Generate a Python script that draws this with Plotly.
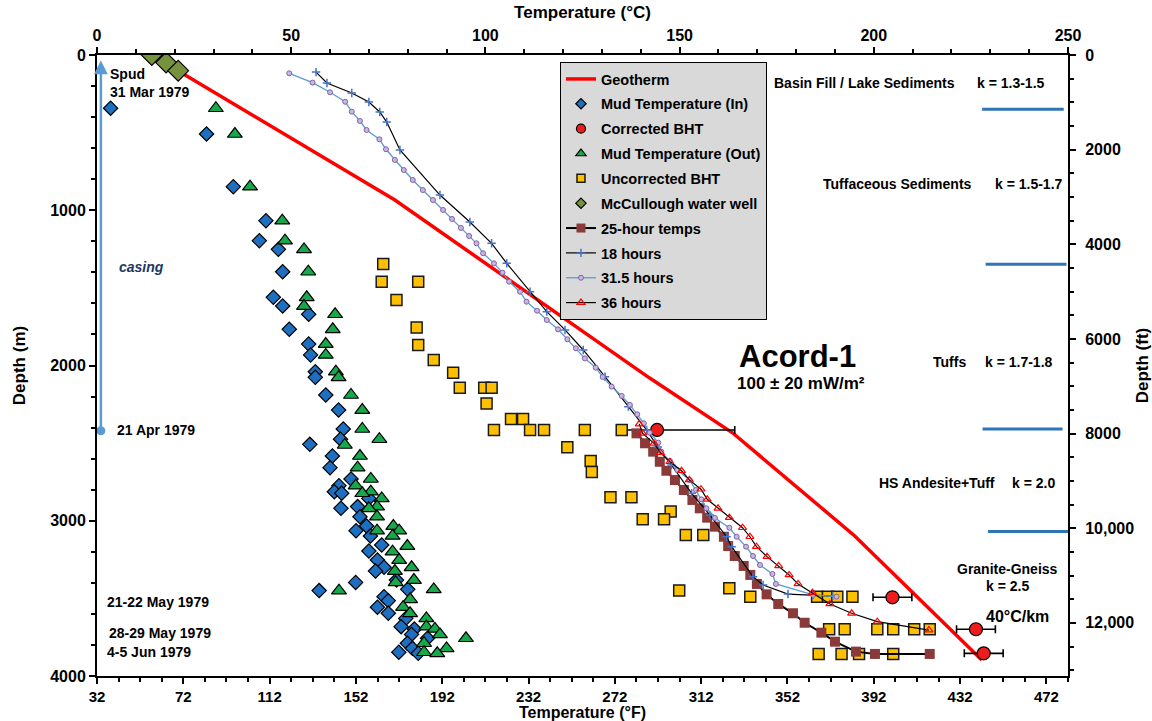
import plotly.graph_objects as go

FONT = "Liberation Sans, Arial, Helvetica, sans-serif"

# ---------------- data (temperature in °C, depth in m) ----------------
geo_t = [21.4, 76.7, 142.3, 163.7, 195.1, 227.8]
geo_d = [110, 934, 2081, 2435, 3098, 3897]

mud_in_t = [3.5, 28.2, 35.1, 43.5, 41.8, 46.7, 47.8, 45.4, 47.8, 54.5, 49.5, 54.5, 55.0, 56.2, 56.2,
            58.9, 62.2, 63.4, 62.7, 54.8, 60.6, 60.0, 65.4, 62.3, 61.1, 63.0, 70.0, 62.8, 67.1, 67.7,
            69.4, 66.7, 70.4, 73.3, 70.0, 72.2, 73.9, 71.7, 66.6, 57.2, 80.0, 77.1, 73.9, 75.0, 72.2,
            75.0, 79.5, 78.3, 81.7, 81.0, 85.1, 79.9, 81.2, 77.7, 82.7]
mud_in_d = [343, 509, 848, 1067, 1196, 1252, 1396, 1561, 1617, 1670, 1767, 1862, 1932, 2040, 2076,
            2190, 2287, 2409, 2475, 2508, 2583, 2658, 2731, 2774, 2813, 2823, 2856, 2920, 2909, 2974,
            3034, 3064, 3098, 3156, 3195, 3253, 3300, 3324, 3397, 3450, 3442, 3382, 3489, 3515, 3557,
            3596, 3629, 3682, 3697, 3732, 3757, 3789, 3822, 3847, 3854]

cor_t = [144.2, 204.8, 226.3, 228.3]
cor_d = [2415, 3493, 3699, 3854]
cor_err_plus = [20.0, 5.0, 5.0, 5.0]
cor_err_minus = [8.3, 5.0, 5.0, 5.0]

mud_out_t = [30.6, 35.5, 39.4, 47.7, 48.4, 53.3, 54.4, 54.0, 53.3, 61.3, 60.7, 58.9, 58.9, 61.5, 62.2,
             65.4, 68.3, 68.3, 72.7, 63.8, 67.7, 67.1, 70.5, 66.6, 70.5, 68.3, 73.3, 72.1, 70.0, 72.1,
             76.3, 72.1, 77.8, 76.1, 79.9, 76.1, 77.8, 81.0, 76.7, 81.6, 76.9, 62.3, 86.7, 80.6, 78.8,
             80.6, 84.8, 84.8, 87.0, 88.3, 95.0, 84.2, 90.0, 84.2, 87.6]
mud_out_d = [343, 509, 848, 1067, 1196, 1252, 1396, 1561, 1617, 1670, 1767, 1862, 1932, 2040, 2076,
             2190, 2287, 2409, 2475, 2512, 2583, 2658, 2731, 2774, 2813, 2823, 2856, 2909, 2920, 2974,
             3034, 3064, 3064, 3098, 3163, 3199, 3253, 3300, 3324, 3382, 3397, 3450, 3442, 3506, 3557,
             3596, 3629, 3682, 3697, 3732, 3757, 3789, 3822, 3847, 3854]

unc_t = [73.7, 73.3, 82.7, 77.1, 82.3, 82.7, 86.7, 91.7, 93.4, 99.7, 101.6, 100.3, 106.6, 109.7,
         102.2, 111.5, 115.1, 125.6, 135.1, 121.1, 127.1, 127.4, 132.2, 137.6, 147.7, 140.5, 146.0,
         151.6, 156.1, 149.9, 162.8, 168.2, 185.4, 188.2, 190.6, 194.5, 188.5, 192.5, 200.9, 205.0,
         210.4, 214.4, 185.8, 191.7, 196.2, 205.0]
unc_d = [1346, 1460, 1460, 1578, 1756, 1868, 1965, 2046, 2143, 2143, 2143, 2244, 2345, 2345,
         2415, 2415, 2415, 2415, 2415, 2527, 2615, 2686, 2849, 2849, 2941, 2991, 2991,
         3092, 3092, 3450, 3435, 3489, 3489, 3489, 3489, 3489, 3699, 3699, 3699, 3699,
         3699, 3699, 3858, 3858, 3858, 3858]

well_t = [14.1, 17.8, 20.9]
well_d = [0, 49, 101]

h25_t = [138.9, 141.1, 143.2, 144.9, 146.6, 148.8, 151.1, 153.3, 155.2, 157.1, 159.1, 161.4, 162.5,
         164.2, 166.5, 168.2, 169.9, 172.4, 175.4, 179.2, 182.2, 186.5, 190.0, 195.4, 200.3, 214.4]
h25_d = [2437, 2501, 2555, 2620, 2678, 2738, 2802, 2866, 2920, 2980, 3038, 3103, 3163,
         3227, 3291, 3349, 3407, 3474, 3536, 3596, 3657, 3721, 3779, 3843, 3858, 3858]

h18_t = [56.4, 59.2, 65.6, 70.0, 72.8, 74.6, 78.0, 88.3, 96.0, 101.6, 105.5, 111.5, 115.8, 120.5,
         125.2, 130.8, 136.8, 141.5, 144.4, 147.9, 153.1, 157.8, 162.1, 163.4, 168.9, 171.5, 177.9,
         184.3, 189.4]
h18_d = [110, 180, 245, 303, 367, 432, 612, 902, 1076, 1213, 1342, 1525, 1653, 1771,
         1900, 2072, 2265, 2415, 2525, 2641, 2823, 2963, 3103, 3167, 3360, 3414, 3472,
         3478, 3485]

h31_t = [49.5, 55.5, 60.0, 63.9, 65.6, 67.7, 69.4, 72.7, 74.4, 76.7, 79.0, 81.3, 83.9, 86.5, 89.1,
         91.4, 93.7, 95.8, 97.7, 99.4, 102.2, 104.4, 106.1, 108.9, 110.6, 113.3, 115.8, 118.7, 121.1,
         123.3, 125.6, 128.4, 130.2, 132.5, 135.1, 137.2, 139.1, 140.8, 142.3, 144.5, 145.3, 147.5,
         149.4, 152.6, 154.2, 155.6, 156.9, 159.1, 162.8, 164.7, 167.1, 168.9, 170.7, 173.9, 174.8,
         184.4, 190.4]
h31_d = [118, 178, 240, 301, 365, 425, 483, 543, 607, 676, 741, 805, 870, 934, 998,
         1056, 1114, 1166, 1213, 1277, 1342, 1402, 1460, 1525, 1589, 1647, 1707, 1767, 1831,
         1889, 1954, 2014, 2074, 2136, 2196, 2254, 2314, 2372, 2433, 2497, 2555, 2615,
         2673, 2737, 2802, 2862, 2920, 2982, 3045, 3103, 3167, 3227, 3285, 3343, 3407,
         3478, 3489]

h36_t = [139.6, 140.5, 143.4, 145.1, 147.5, 150.5, 152.5, 155.5, 157.1, 159.9, 162.8, 166.2, 168.1,
         169.8, 172.5, 175.5, 178.2, 180.5, 184.2, 188.7, 194.3, 200.9, 214.2]
h36_d = [2377, 2437, 2501, 2562, 2620, 2678, 2737, 2797, 2862, 2920, 2980, 3045, 3103,
         3167, 3231, 3291, 3349, 3407, 3463, 3536, 3596, 3650, 3704]

# casing from spud to 21 Apr 1979
casing_t = 1.0
casing_top_d = 35
casing_bot_d = 2420

# formation boundaries (m)
boundary_d = [350, 1348, 2409, 3070]
boundary_t0 = [227.9, 228.8, 228.0, 229.4]
boundary_t1 = [248.9, 249.6, 248.6, 250.0]

# axis ticks
c_ticks = [0, 50, 100, 150, 200, 250]
f_ticks = [32, 72, 112, 152, 192, 232, 272, 312, 352, 392, 432, 472]
m_ticks = [0, 1000, 2000, 3000, 4000]
ft_ticks = [0, 2000, 4000, 6000, 8000, 10000, 12000]
ft_labels = ["0", "2000", "4000", "6000", "8000", "10,000", "12,000"]
ft_minor = [v for v in range(500, 13001, 500) if v % 2000 != 0]

MAX_D = 4000
MAX_FT = MAX_D / 0.3048

# ---------------- series styles ----------------
series = [
    dict(name="Geotherm", x=geo_t, y=geo_d, mode="lines",
         line=dict(color="#FF0000", width=3.5), lg=None),
    dict(name="Mud Temperature (In)", x=mud_in_t, y=mud_in_d, mode="markers",
         marker=dict(symbol="diamond", size=11, color="#1F6FC0", line=dict(color="black", width=1.2)),
         lg=dict(size=8)),
    dict(name="Corrected BHT", x=cor_t, y=cor_d, mode="markers",
         marker=dict(symbol="circle", size=13, color="#EE1C1C", line=dict(color="black", width=1.2)),
         error_x=dict(type="data", symmetric=False, array=cor_err_plus, arrayminus=cor_err_minus,
                      color="black", thickness=1.6, width=4),
         lg=dict(size=9)),
    dict(name="Mud Temperature (Out)", x=mud_out_t, y=mud_out_d, mode="markers",
         marker=dict(symbol="triangle-up", size=13, color="#16A84A", line=dict(color="black", width=1.2)),
         lg=dict(size=9)),
    dict(name="Uncorrected BHT", x=unc_t, y=unc_d, mode="markers",
         marker=dict(symbol="square", size=11, color="#FFC000", line=dict(color="#1a1a1a", width=1.5)),
         lg=dict(size=8)),
    dict(name="McCullough water well", x=well_t, y=well_d, mode="markers",
         marker=dict(symbol="diamond", size=16, color="#76923C", line=dict(color="black", width=1.2)),
         lg=dict(size=8)),
    dict(name="25-hour temps", x=h25_t, y=h25_d, mode="lines+markers",
         line=dict(color="black", width=2),
         marker=dict(symbol="square", size=10, color="#8B3A3A", line=dict(width=0)),
         lg=dict(size=9)),
    dict(name="18 hours", x=h18_t, y=h18_d, mode="lines+markers",
         line=dict(color="black", width=1.2),
         marker=dict(symbol="cross-thin", size=6, color="#4472C4", line=dict(color="#4472C4", width=1.5)),
         lg=None),
    dict(name="31.5 hours", x=h31_t, y=h31_d, mode="lines+markers",
         line=dict(color="#5B9BD5", width=1.3),
         marker=dict(symbol="circle", size=5, color="#C9B6E4", line=dict(color="#8064A2", width=1)),
         lg=None),
    dict(name="36 hours", x=h36_t, y=h36_d, mode="lines+markers",
         line=dict(color="black", width=1.2),
         marker=dict(symbol="triangle-up-open", size=7, color="#FF0000", line=dict(color="#FF0000", width=1.2)),
         lg=None),
]

fig = go.Figure()

for i, s in enumerate(series):
    s = dict(s)
    lg = s.pop("lg")
    grp = "g%d" % i
    if lg is None:
        fig.add_trace(go.Scatter(xaxis="x2", yaxis="y", legendgroup=grp, hoverinfo="skip", **s))
    else:
        fig.add_trace(go.Scatter(xaxis="x2", yaxis="y", legendgroup=grp, hoverinfo="skip",
                                 showlegend=False, **s))
        mk = dict(s["marker"])
        mk.update(lg)
        leg = dict(name=s["name"], mode=s["mode"], marker=mk)
        if "line" in s:
            leg["line"] = s["line"]
        fig.add_trace(go.Scatter(x=[None], y=[None], xaxis="x2", yaxis="y", legendgroup=grp,
                                 hoverinfo="skip", **leg))

# casing dot
fig.add_trace(go.Scatter(x=[casing_t], y=[casing_bot_d], xaxis="x2", yaxis="y", mode="markers",
                         marker=dict(symbol="circle", size=9, color="#5B9BD5"),
                         showlegend=False, hoverinfo="skip"))
# dummy trace for secondary axes
fig.add_trace(go.Scatter(x=[None], y=[None], xaxis="x", yaxis="y2", showlegend=False, hoverinfo="skip"))

# formation boundary lines
for d, t0, t1 in zip(boundary_d, boundary_t0, boundary_t1):
    fig.add_shape(type="line", xref="x2", yref="y", x0=t0, x1=t1, y0=d, y1=d,
                  line=dict(color="#2E75B6", width=3))

bold = dict(family=FONT, color="black", weight="bold")

def note(text, x, y, size=14, xanchor="left", **kw):
    f = dict(bold, size=size)
    f.update(kw.pop("font", {}))
    fig.add_annotation(text=text, x=x, y=y, xref="x2", yref="y", showarrow=False,
                       xanchor=xanchor, yanchor="middle", font=f, align=kw.pop("align", "left"), **kw)

# casing arrow
fig.add_annotation(x=casing_t, y=casing_top_d, ax=casing_t, ay=casing_bot_d, xref="x2", yref="y",
                   axref="x2", ayref="y", showarrow=True, arrowhead=2, arrowsize=1.1,
                   arrowwidth=2.5, arrowcolor="#5B9BD5", text="")

note("Spud<br>31 Mar 1979", 2.9, 180)
note("<i>casing</i>", 5.2, 1364, font=dict(color="#203864"))
note("21 Apr 1979", 4.6, 2415)
note("21-22 May 1979", 2.1, 3525)
note("28-29 May 1979", 2.5, 3721)
note("4-5 Jun 1979", 2.1, 3847)
note("Acord-1", 180.4, 1945, size=31, xanchor="center")
note("100 ± 20 mW/m²", 181.3, 2113, size=17, xanchor="center")
note("Basin Fill / Lake Sediments", 173.7, 182)
note("k = 1.3-1.5", 226.0, 182)
note("Tuffaceous Sediments", 186.5, 831)
note("k = 1.5-1.7", 230.6, 831)
note("Tuffs", 214.8, 1975)
note("k = 1.7-1.8", 228.0, 1975)
note("HS Andesite+Tuff", 200.7, 2755)
note("k = 2.0", 235.0, 2755)
note("Granite-Gneiss", 234.5, 3313, xanchor="center")
note("k = 2.5", 234.5, 3420, xanchor="center")
note("40°C/km", 228.3, 3618, size=16)

tickfont = dict(bold, size=16)
titlefont = dict(bold, size=17)
axis_common = dict(showline=True, linewidth=2, linecolor="black", showgrid=False, zeroline=False,
                   ticks="outside", ticklen=6, tickwidth=2, tickcolor="black",
                   tickfont=tickfont, automargin=False)

fig.update_layout(
    width=1152, height=721,
    margin=dict(l=97, r=84, t=55, b=45),
    paper_bgcolor="white", plot_bgcolor="white",
    xaxis=dict(axis_common, range=[32, 482], tickmode="array", tickvals=f_ticks,
               tickfont=dict(bold, size=15),
               minor=dict(tick0=32, dtick=10, ticks="outside", ticklen=4, tickwidth=1.5, tickcolor="black"),
               title=dict(text="Temperature (°F)", font=dict(bold, size=16), standoff=3), anchor="y"),
    xaxis2=dict(axis_common, range=[0, 250], tickmode="array", tickvals=c_ticks, side="top",
                overlaying="x", anchor="y",
                minor=dict(tick0=0, dtick=10, ticks="outside", ticklen=4, tickwidth=1.5, tickcolor="black"),
                title=dict(text="Temperature (°C)", font=titlefont, standoff=4)),
    yaxis=dict(axis_common, range=[MAX_D, 0], tickmode="array", tickvals=m_ticks, anchor="x",
               minor=dict(tick0=0, dtick=200, ticks="outside", ticklen=4, tickwidth=1.5, tickcolor="black"),
               title=dict(text="Depth (m)", font=titlefont, standoff=20)),
    yaxis2=dict(axis_common, range=[MAX_FT, 0], tickmode="array", tickvals=ft_ticks, ticktext=ft_labels,
                side="right", overlaying="y", anchor="x", ticklabelstandoff=6,
                minor=dict(tickmode="array", tickvals=ft_minor, ticks="outside", ticklen=4, tickwidth=1.5,
                           tickcolor="black"),
                title=dict(text="Depth (ft)", font=titlefont, standoff=8)),
    legend=dict(x=0.4768, y=0.9887, xanchor="left", yanchor="top", bgcolor="#D9D9D9",
                bordercolor="black", borderwidth=1, font=dict(bold, size=14.5),
                tracegroupgap=3, itemwidth=30),
    showlegend=True,
)

fig.write_html("out.html")
